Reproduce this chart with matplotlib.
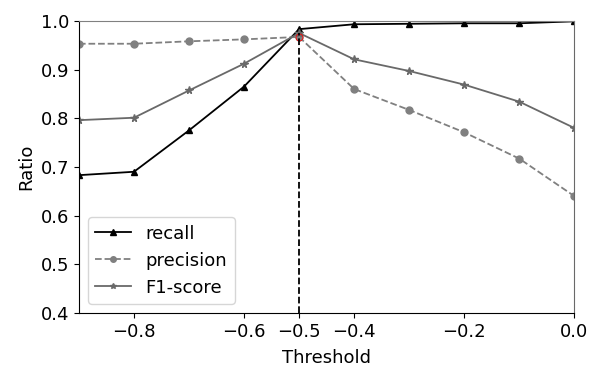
import matplotlib
matplotlib.use("Agg")
import matplotlib.pyplot as plt

thresholds = [-0.9, -0.8, -0.7, -0.6, -0.5, -0.4, -0.3, -0.2, -0.1, 0.0]
recall = [0.683, 0.690, 0.775, 0.865, 0.983, 0.993, 0.994, 0.995, 0.995, 0.999]
precision = [0.953, 0.953, 0.958, 0.962, 0.967, 0.860, 0.817, 0.771, 0.717, 0.640]
f1 = [0.796, 0.801, 0.857, 0.912, 0.975, 0.921, 0.897, 0.869, 0.834, 0.780]
xticks = [-0.8, -0.6, -0.5, -0.4, -0.2, 0.0]
yticks = [0.4, 0.5, 0.6, 0.7, 0.8, 0.9, 1.0]
best_threshold = -0.5

fig = plt.figure(figsize=(5.89, 3.66), dpi=100)
ax = fig.add_axes([0.134, 0.145, 0.841, 0.798])

ax.plot(thresholds, recall, color='black', marker='^', markersize=5, linewidth=1.3, label='recall')
ax.plot(thresholds, precision, color='gray', marker='o', markersize=5, linewidth=1.3, linestyle='--', label='precision')
ax.plot(thresholds, f1, color='dimgray', marker='*', markersize=5.5, linewidth=1.3, label='F1-score')
i = thresholds.index(best_threshold)
ax.plot([best_threshold], [precision[i]], marker='o', markersize=5, markerfacecolor='none',
        markeredgecolor='red', markeredgewidth=0.6, linestyle='none')
ax.axvline(best_threshold, ymax=(f1[i]-0.4)/0.6, color='black', linestyle='--', linewidth=1.3)

ax.set_xlim(-0.9, 0.0)
ax.set_ylim(0.4, 1.0)
ax.set_xticks(xticks)
ax.set_yticks(yticks)
ax.tick_params(labelsize=13)
ax.set_xlabel('Threshold', fontsize=13, labelpad=6)
ax.set_ylabel('Ratio', fontsize=13)
ax.spines['top'].set_color('gray')
ax.spines['right'].set_color('dimgray')
ax.legend(loc='lower left', fontsize=13, borderaxespad=0.5, markerscale=0.8)

fig.savefig('out.png', dpi=100)
